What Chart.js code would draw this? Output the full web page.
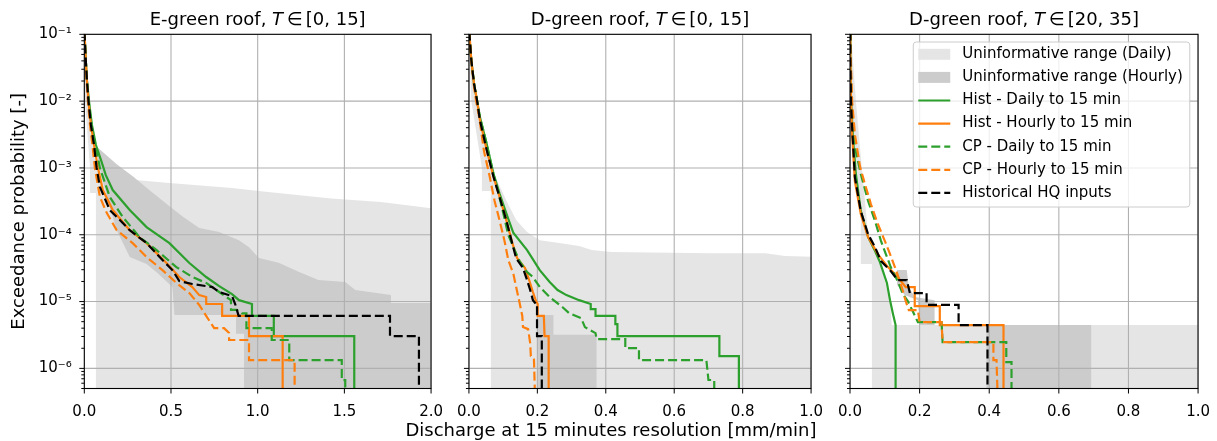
<!DOCTYPE html>
<html>
<head>
<meta charset="utf-8">
<script src="https://cdn.jsdelivr.net/npm/chart.js@4.4.1/dist/chart.umd.min.js"></script>
<style>
  body { margin: 0; background: #fff; width: 1217px; height: 441px; overflow: hidden; position: relative; }
  canvas { position: absolute; top: 0; }
  #xlabel { position: absolute; left: 611px; top: 421px; transform: translateX(-50%); white-space: nowrap;
            font: 18px/18px "DejaVu Sans", sans-serif; color: #000; }
</style>
</head>
<body>
<canvas id="c1" width="450" height="441" style="left:0px"></canvas>
<canvas id="c2" width="380" height="441" style="left:450px"></canvas>
<canvas id="c3" width="387" height="441" style="left:830px"></canvas>
<div id="xlabel">Discharge at 15 minutes resolution [mm/min]</div>
<script>
// ---- labels / ticks ----
var seriesLabels = ['Uninformative range (Daily)', 'Uninformative range (Hourly)', 'Hist - Daily to 15 min',
  'Hist - Hourly to 15 min', 'CP - Daily to 15 min', 'CP - Hourly to 15 min', 'Historical HQ inputs'];
var panelTitles = [
  ['E-green roof, ', 'T', '∈', '[0, 15]'],
  ['D-green roof, ', 'T', '∈', '[0, 15]'],
  ['D-green roof, ', 'T', '∈', '[20, 35]']
];
var yLabel = 'Exceedance probability [-]';
var yMajor = [1e-6, 1e-5, 1e-4, 1e-3, 1e-2, 1e-1];
var yMajorLabels = ['10⁻⁶', '10⁻⁵', '10⁻⁴', '10⁻³', '10⁻²', '10⁻¹'];
var yMin = 5e-7, yMax = 0.1;
var xMaxes = [2, 1, 1];
var xSteps = [0.5, 0.2, 0.2];

// ---- panel 1: E-green roof, T in [0,15]  ([x, exceedance]) ----
var p1Daily = [[0.067,4e-7],[0.067,4.2e-4],[0.033,4.2e-4],[0.033,1e-3],[0.004,1e-2],[0,0.1],[0.006,0.1],[0.02,1e-2],
  [0.05,2e-3],[0.073,9e-4],[0.245,6.8e-4],[0.508,5.9e-4],[0.852,5e-4],[1.047,4.4e-4],[1.425,3.5e-4],[1.711,3.1e-4],
  [2.0,2.5e-4],[2.1,2.45e-4],[2.1,4e-7]];
var p1Hourly = [[0.921,4e-7],[0.921,3.3e-6],[0.875,3.3e-6],[0.875,6.3e-6],[0.52,6.3e-6],[0.508,1.65e-5],[0.422,2.67e-5],
  [0.359,3.64e-5],[0.262,4.64e-5],[0.187,1.17e-4],[0.147,2.6e-4],[0.09,9.3e-4],[0.067,2.13e-3],[0.187,1.14e-3],
  [0.285,7.3e-4],[0.382,4.5e-4],[0.497,2.6e-4],[0.571,1.84e-4],[0.663,1.26e-4],[0.778,1.1e-4],[0.892,8.3e-5],
  [0.95,6.5e-5],[1.007,4.5e-5],[1.121,3.8e-5],[1.236,2.8e-5],[1.35,2.1e-5],[1.505,1.96e-5],[1.563,1.49e-5],
  [1.769,1.25e-5],[1.769,9.5e-6],[2.1,9.5e-6],[2.1,4e-7]];
var p1HistDaily = [[0.001,0.11],[0.007,4.9e-2],[0.015,2.07e-2],[0.027,1e-2],[0.044,4.4e-3],[0.067,2.2e-3],[0.096,1.32e-3],
  [0.124,7.8e-4],[0.164,4.67e-4],[0.262,2.34e-4],[0.359,1.3e-4],[0.491,7.5e-5],[0.606,3.77e-5],[0.703,2.33e-5],
  [0.778,1.7e-5],[0.852,1.29e-5],[0.892,1.05e-5],[0.967,9.2e-6],[0.967,6.1e-6],[1.093,6.1e-6],[1.093,3.05e-6],
  [1.557,3.05e-6],[1.557,4e-7]];
var p1HistHourly = [[0.001,0.11],[0.007,4.9e-2],[0.015,2.07e-2],[0.024,1e-2],[0.038,4.4e-3],[0.056,2.2e-3],[0.079,1e-3],
  [0.107,4.67e-4],[0.164,2.34e-4],[0.262,1.17e-4],[0.359,7.5e-5],[0.474,3.77e-5],[0.548,2.33e-5],[0.623,1.65e-5],
  [0.663,1.25e-5],[0.703,1.17e-5],[0.703,9.2e-6],[0.795,9.2e-6],[0.795,6.1e-6],[0.95,6.1e-6],[0.95,3.05e-6],
  [1.144,3.05e-6],[1.144,4e-7]];
var p1CpDaily = [[0.001,0.11],[0.007,4.9e-2],[0.015,2.07e-2],[0.025,1e-2],[0.041,4.4e-3],[0.064,2.2e-3],[0.09,1e-3],
  [0.147,3.67e-4],[0.222,1.84e-4],[0.319,9.2e-5],[0.417,5.9e-5],[0.531,3.28e-5],[0.623,2.33e-5],[0.703,1.9e-5],
  [0.778,1.39e-5],[0.818,1.17e-5],[0.846,1.05e-5],[0.846,7.5e-6],[0.88,7.5e-6],[0.909,6.65e-6],[0.935,6.65e-6],
  [0.935,4e-6],[1.081,4e-6],[1.081,2.66e-6],[1.182,2.66e-6],[1.182,1.33e-6],[1.485,1.33e-6],[1.485,6.65e-7],
  [1.505,6.65e-7],[1.505,4e-7]];
var p1CpHourly = [[0.001,0.11],[0.006,4.9e-2],[0.013,2.07e-2],[0.021,1e-2],[0.033,4.4e-3],[0.047,2.2e-3],[0.061,1e-3],
  [0.09,3.67e-4],[0.13,2.11e-4],[0.187,1.17e-4],[0.279,7.5e-5],[0.359,4.64e-5],[0.451,2.96e-5],[0.531,1.9e-5],
  [0.606,1.34e-5],[0.663,8.9e-6],[0.703,6.1e-6],[0.749,4e-6],[0.806,4e-6],[0.835,3.4e-6],[0.835,2.66e-6],
  [0.95,2.66e-6],[0.95,1.33e-6],[1.213,1.33e-6],[1.213,4e-7]];
var p1Hq = [[0.001,0.11],[0.007,4.9e-2],[0.015,2.07e-2],[0.024,1e-2],[0.038,4.4e-3],[0.056,2.2e-3],[0.071,1e-3],
  [0.09,5.18e-4],[0.147,2.34e-4],[0.205,1.66e-4],[0.262,1.17e-4],[0.359,7.5e-5],[0.451,4.18e-5],[0.508,2.96e-5],
  [0.548,2.03e-5],[0.623,1.83e-5],[0.738,1.65e-5],[0.778,1.39e-5],[0.852,1.21e-5],[0.87,9.2e-6],[0.89,6.1e-6],
  [1.763,6.1e-6],[1.763,3.05e-6],[1.93,3.05e-6],[1.93,4e-7]];

// ---- panel 2: D-green roof, T in [0,15] ----
var p2Daily = [[0.064,4e-7],[0.064,4.5e-4],[0.038,4.5e-4],[0.038,1e-3],[0.007,1e-2],[0,0.1],[0.002,0.1],[0.009,2.9e-2],
  [0.024,1e-2],[0.047,3.2e-3],[0.067,1e-3],[0.087,5.74e-4],[0.11,3.2e-4],[0.138,1.66e-4],[0.17,1.1e-4],[0.207,8.3e-5],
  [0.264,7.5e-5],[0.322,6.8e-5],[0.359,5.9e-5],[0.416,5.5e-5],[0.703,5.3e-5],[0.866,5.3e-5],[0.924,4.8e-5],
  [1.03,4.64e-5],[1.03,4e-7]];
var p2Hourly = [[0.199,4e-7],[0.199,6.3e-6],[0.247,6.3e-6],[0.247,3.2e-6],[0.373,3.2e-6],[0.373,4e-7]];
var p2HistDaily = [[0.001,0.11],[0.001,9.4e-2],[0.007,4.1e-2],[0.015,1.8e-2],[0.024,1e-2],[0.032,5.8e-3],[0.052,2.28e-3],
  [0.072,8.1e-4],[0.09,4.07e-4],[0.11,2.04e-4],[0.13,1.06e-4],[0.17,5.9e-5],[0.207,2.96e-5],[0.236,1.96e-5],
  [0.259,1.49e-5],[0.285,1.25e-5],[0.322,1.05e-5],[0.356,9.2e-6],[0.356,7.7e-6],[0.37,7.7e-6],[0.37,6.1e-6],
  [0.428,6.1e-6],[0.428,4.6e-6],[0.434,4.6e-6],[0.434,3.05e-6],[0.732,3.05e-6],[0.732,1.53e-6],[0.789,1.53e-6],
  [0.789,4e-7]];
var p2HistHourly = [[0.001,0.11],[0.007,4.1e-2],[0.015,1.8e-2],[0.024,1e-2],[0.032,5.2e-3],[0.052,1.85e-3],[0.072,7.3e-4],
  [0.093,3.2e-4],[0.11,1.6e-4],[0.127,7.5e-5],[0.141,4.47e-5],[0.164,3.17e-5],[0.176,2.1e-5],[0.187,1.39e-5],
  [0.196,1.02e-5],[0.201,9.2e-6],[0.201,6.1e-6],[0.219,6.1e-6],[0.221,3.05e-6],[0.233,3.05e-6],[0.233,4e-7]];
var p2CpDaily = [[0.001,0.11],[0.007,4.1e-2],[0.015,1.8e-2],[0.024,1e-2],[0.032,5.8e-3],[0.052,2.28e-3],[0.07,8.7e-4],
  [0.087,4.07e-4],[0.101,2.04e-4],[0.115,9.9e-5],[0.13,6.5e-5],[0.148,4.04e-5],[0.17,2.77e-5],[0.187,2.33e-5],
  [0.207,1.65e-5],[0.236,1.17e-5],[0.273,8.3e-6],[0.293,6.7e-6],[0.328,5.66e-6],[0.339,4.15e-6],[0.37,3.37e-6],
  [0.373,2.75e-6],[0.457,2.75e-6],[0.457,2.01e-6],[0.497,2.01e-6],[0.497,1.33e-6],[0.694,1.33e-6],[0.7,6.7e-7],
  [0.717,6.7e-7],[0.717,4e-7]];
var p2CpHourly = [[0.001,0.11],[0.007,4.1e-2],[0.014,1.8e-2],[0.021,1e-2],[0.03,5.8e-3],[0.044,1.79e-3],[0.061,7.3e-4],
  [0.075,3.2e-4],[0.09,1.6e-4],[0.104,8.1e-5],[0.115,4.18e-5],[0.13,2.58e-5],[0.138,1.65e-5],[0.147,1.02e-5],
  [0.156,6.07e-6],[0.158,4.15e-6],[0.173,3.87e-6],[0.179,2.39e-6],[0.181,1.53e-6],[0.19,1.43e-6],[0.193,4e-7]];
var p2Hq = [[0.001,0.11],[0.007,4.1e-2],[0.015,1.8e-2],[0.024,1e-2],[0.032,5.2e-3],[0.052,1.85e-3],[0.072,7.3e-4],
  [0.093,3.2e-4],[0.11,1.6e-4],[0.127,7.25e-5],[0.138,4.47e-5],[0.158,3.17e-5],[0.167,2.33e-5],[0.179,1.49e-5],
  [0.187,1.05e-5],[0.196,9.2e-6],[0.199,9.2e-6],[0.199,3.05e-6],[0.213,3.05e-6],[0.213,4e-7]];

// ---- panel 3: D-green roof, T in [20,35] ----
var p3Daily = [[0.063,4e-7],[0.063,3.66e-5],[0.031,3.66e-5],[0.031,1.6e-4],[0.003,1e-2],[0,0.1],[0.003,0.1],[0.017,1e-2],
  [0.034,1e-3],[0.052,1.02e-4],[0.077,5.9e-5],[0.094,2.67e-5],[0.115,1.05e-5],[0.12,4.45e-6],[1.03,4.45e-6],[1.03,4e-7]];
var p3Hourly = [[0.392,4e-7],[0.392,4.45e-6],[0.693,4.45e-6],[0.693,4e-7]];
var p3HourlyUpper = [[0.135,2.96e-5],[0.163,2.96e-5],[0.169,1.65e-5],[0.186,1.17e-5],[0.243,1.05e-5],[0.243,4.45e-6],
  [0.2,4.45e-6],[0.195,1.05e-5],[0.157,1.25e-5],[0.135,1.78e-5]];
var p3HistDaily = [[0.001,0.11],[0.001,4.1e-2],[0.003,1e-2],[0.009,2.6e-3],[0.017,8.1e-4],[0.031,2.26e-4],[0.052,9.2e-5],
  [0.072,5.7e-5],[0.086,3.9e-5],[0.106,1.9e-5],[0.115,1.05e-5],[0.123,6.7e-6],[0.131,4.45e-6],[0.131,4e-7]];
var p3HistHourly = [[0.001,0.11],[0.001,4.1e-2],[0.003,1e-2],[0.006,3.2e-3],[0.014,6.37e-4],[0.031,2.04e-4],[0.052,9.2e-5],
  [0.08,5.14e-5],[0.109,3.28e-5],[0.129,2.58e-5],[0.146,2.03e-5],[0.16,1.65e-5],[0.186,1.65e-5],[0.186,8.57e-6],
  [0.258,8.57e-6],[0.258,4.45e-6],[0.441,4.45e-6],[0.441,4e-7]];
var p3CpDaily = [[0.001,0.11],[0.001,5.8e-2],[0.003,2.07e-2],[0.006,7.4e-3],[0.014,2.05e-3],[0.031,8.1e-4],[0.052,3.2e-4],
  [0.072,1.6e-4],[0.089,8.1e-5],[0.103,5.14e-5],[0.117,3.28e-5],[0.137,2.03e-5],[0.152,1.29e-5],[0.166,1.02e-5],
  [0.18,7.2e-6],[0.195,4.93e-6],[0.263,4.93e-6],[0.266,2.48e-6],[0.449,2.48e-6],[0.449,1.24e-6],[0.464,1.24e-6],
  [0.464,4e-7]];
var p3CpHourly = [[0.001,0.11],[0.001,6.9e-2],[0.003,3.24e-2],[0.006,1e-2],[0.014,3.2e-3],[0.029,1.03e-3],[0.043,5.74e-4],
  [0.06,2.88e-4],[0.08,1.45e-4],[0.1,8.1e-5],[0.115,5.14e-5],[0.129,3.28e-5],[0.143,2.03e-5],[0.152,1.44e-5],
  [0.16,1.02e-5],[0.169,7.46e-6],[0.195,7.46e-6],[0.2,4.93e-6],[0.263,4.93e-6],[0.266,2.48e-6],[0.412,2.48e-6],
  [0.412,1.33e-6],[0.421,1.33e-6],[0.424,4e-7]];
var p3Hq = [[0.001,0.11],[0.001,4.1e-2],[0.003,1e-2],[0.006,4.1e-3],[0.014,7.3e-4],[0.031,2.26e-4],[0.052,1.02e-4],
  [0.072,6.5e-5],[0.089,4.04e-5],[0.117,2.86e-5],[0.137,2.1e-5],[0.163,2.1e-5],[0.172,1.34e-5],[0.22,1.34e-5],
  [0.22,8.9e-6],[0.312,8.9e-6],[0.312,4.45e-6],[0.395,4.45e-6],[0.395,4e-7]];

// ---- styling ----
Chart.defaults.font.family = "'DejaVu Sans', sans-serif";
Chart.defaults.color = '#000';

var FONT = "'DejaVu Sans', sans-serif";
var colDaily = '#e5e5e5', colHourly = '#cccccc';
var colGreen = '#2ca02c', colOrange = '#ff7f0e', colBlack = '#000000';
var LINE_W = 2.2, DASH = [9, 4];

var yMinor = [];
[1e-7, 1e-6, 1e-5, 1e-4, 1e-3, 1e-2].forEach(function (d) {
  for (var m = 2; m <= 9; m++) { var v = m * d; if (v >= yMin && v <= yMax) yMinor.push(v); }
});

function pts(a) { return a.map(function (p) { return {x: p[0], y: p[1]}; }); }

function fillSet(data, color, order) {
  return {data: pts(data), isFill: true, showLine: true, fill: 'shape', backgroundColor: color,
    borderColor: 'transparent', borderWidth: 0, pointRadius: 0, order: order};
}
function lineSet(data, color, dashed, order) {
  return {data: pts(data), showLine: true, fill: false, borderColor: color, backgroundColor: color,
    borderWidth: LINE_W, borderDash: dashed ? DASH : [], pointRadius: 0, tension: 0, order: order};
}

var legendItems = [
  {label: seriesLabels[0], patch: colDaily},
  {label: seriesLabels[1], patch: colHourly},
  {label: seriesLabels[2], color: colGreen, dash: []},
  {label: seriesLabels[3], color: colOrange, dash: []},
  {label: seriesLabels[4], color: colGreen, dash: DASH},
  {label: seriesLabels[5], color: colOrange, dash: DASH},
  {label: seriesLabels[6], color: colBlack, dash: DASH}
];

var decor = {
  id: 'decor',
  beforeDraw: function (chart) { chart.$gridDone = false; },
  beforeDatasetDraw: function (chart, args) {
    if (chart.$gridDone || chart.data.datasets[args.index].isFill) return;
    chart.$gridDone = true;
    var ctx = chart.ctx, a = chart.chartArea, x = chart.scales.x, y = chart.scales.y;
    ctx.save();
    ctx.beginPath(); ctx.rect(a.left, a.top, a.right - a.left, a.bottom - a.top); ctx.clip();
    ctx.strokeStyle = '#b0b0b0'; ctx.lineWidth = 1.1;
    ctx.beginPath();
    x.ticks.forEach(function (t) { var px = x.getPixelForValue(t.value); ctx.moveTo(px, a.top); ctx.lineTo(px, a.bottom); });
    yMajor.forEach(function (v) { var py = y.getPixelForValue(v); ctx.moveTo(a.left, py); ctx.lineTo(a.right, py); });
    ctx.stroke();
    ctx.restore();
  },
  afterDatasetsDraw: function (chart) {
    var ctx = chart.ctx, a = chart.chartArea, x = chart.scales.x, y = chart.scales.y;
    ctx.save();
    ctx.strokeStyle = '#000'; ctx.lineWidth = 1;
    ctx.beginPath();
    x.ticks.forEach(function (t) { var px = x.getPixelForValue(t.value); ctx.moveTo(px, a.bottom); ctx.lineTo(px, a.bottom + 5); });
    yMajor.forEach(function (v) { var py = y.getPixelForValue(v); ctx.moveTo(a.left - 5, py); ctx.lineTo(a.left, py); });
    yMinor.forEach(function (v) { var py = y.getPixelForValue(v); ctx.moveTo(a.left - 3, py); ctx.lineTo(a.left, py); });
    ctx.stroke();
    ctx.lineWidth = 1.1;
    ctx.strokeRect(a.left, a.top, a.right - a.left, a.bottom - a.top);
    ctx.restore();
  },
  afterDraw: function (chart, args, opts) {
    var ctx = chart.ctx, a = chart.chartArea;
    ctx.save();
    // title with italic T
    var parts = opts.title || [], gaps = [0, 4, 3, 0], fonts = [], widths = [], total = 0;
    parts.forEach(function (p, i) {
      fonts[i] = (i === 1 ? 'italic ' : '') + '18px ' + FONT;
      ctx.font = fonts[i];
      widths[i] = ctx.measureText(p).width;
      total += widths[i] + (i < parts.length - 1 ? gaps[i] : 0);
    });
    var tx = (a.left + a.right) / 2 - total / 2;
    ctx.fillStyle = '#000'; ctx.textBaseline = 'alphabetic'; ctx.textAlign = 'left';
    parts.forEach(function (p, i) { ctx.font = fonts[i]; ctx.fillText(p, tx, 25); tx += widths[i] + gaps[i]; });

    if (opts.legend) {
      ctx.font = '15px ' + FONT;
      var maxW = 0;
      legendItems.forEach(function (it) { maxW = Math.max(maxW, ctx.measureText(it.label).width); });
      var bw = 49 + maxW + 7, bh = 165, bx = a.right - 8.3 - bw, by = a.top + 7.7;
      ctx.beginPath();
      if (ctx.roundRect) ctx.roundRect(bx, by, bw, bh, 3); else ctx.rect(bx, by, bw, bh);
      ctx.fillStyle = 'rgba(255,255,255,0.8)'; ctx.fill();
      ctx.strokeStyle = '#cccccc'; ctx.lineWidth = 1; ctx.stroke();
      legendItems.forEach(function (it, i) {
        var cy = by + 12.3 + i * 23.1, hx = bx + 5;
        if (it.patch) {
          ctx.fillStyle = it.patch; ctx.fillRect(hx, cy - 5.5, 32, 11);
        } else {
          ctx.strokeStyle = it.color; ctx.lineWidth = LINE_W; ctx.setLineDash(it.dash);
          ctx.beginPath(); ctx.moveTo(hx, cy); ctx.lineTo(hx + 32, cy); ctx.stroke(); ctx.setLineDash([]);
        }
        ctx.fillStyle = '#000'; ctx.textBaseline = 'middle';
        ctx.fillText(it.label, bx + 49, cy);
      });
    }
    ctx.restore();
  }
};

var layouts = [
  {canvas: 'c1', yWidth: 84.3, padRight: 16.7, showY: true},
  {canvas: 'c2', yWidth: 17.7, padRight: 13.3, showY: false},
  {canvas: 'c3', yWidth: 20, padRight: 17.7, showY: false}
];

var panels = [
  {daily: [p1Daily], hourly: [p1Hourly], lines: [p1HistDaily, p1HistHourly, p1CpDaily, p1CpHourly, p1Hq]},
  {daily: [p2Daily], hourly: [p2Hourly], lines: [p2HistDaily, p2HistHourly, p2CpDaily, p2CpHourly, p2Hq]},
  {daily: [p3Daily], hourly: [p3Hourly, p3HourlyUpper], lines: [p3HistDaily, p3HistHourly, p3CpDaily, p3CpHourly, p3Hq]}
];
var lineStyles = [[colGreen, false], [colOrange, false], [colGreen, true], [colOrange, true], [colBlack, true]];

panels.forEach(function (p, k) {
  var L = layouts[k];
  var sets = [];
  p.daily.forEach(function (d) { sets.push(fillSet(d, colDaily, 20)); });
  p.hourly.forEach(function (d) { sets.push(fillSet(d, colHourly, 19)); });
  p.lines.forEach(function (d, i) { sets.push(lineSet(d, lineStyles[i][0], lineStyles[i][1], 7 - i)); });

  new Chart(document.getElementById(L.canvas), {
    type: 'line',
    data: {datasets: sets},
    plugins: [decor],
    options: {
      responsive: false,
      animation: false,
      events: [],
      devicePixelRatio: 1,
      layout: {padding: {left: 0, right: L.padRight, top: 34.3, bottom: 0}},
      plugins: {
        legend: {display: false},
        tooltip: {enabled: false},
        decor: {title: panelTitles[k], legend: k === 2}
      },
      scales: {
        x: {
          type: 'linear', min: 0, max: xMaxes[k],
          grid: {display: false}, border: {display: false},
          ticks: {stepSize: xSteps[k], padding: 7, font: {size: 15}, color: '#000', maxRotation: 0,
            callback: function (v) { return v.toFixed(1); }},
          afterFit: function (s) { s.height = 52.5; }
        },
        y: {
          type: 'logarithmic', min: yMin, max: yMax,
          grid: {display: false}, border: {display: false},
          ticks: {display: L.showY, padding: 4.5, font: {size: 15}, color: '#000', autoSkip: false,
            callback: function (v, i) { return yMajorLabels[i]; }},
          afterBuildTicks: function (s) { s.ticks = yMajor.map(function (v) { return {value: v, major: true}; }); },
          title: {display: L.showY, text: yLabel, font: {size: 18}, color: '#000', padding: {top: 9, bottom: 0}},
          afterFit: function (s) { s.width = L.yWidth; }
        }
      }
    }
  });
});
</script>
</body>
</html>
